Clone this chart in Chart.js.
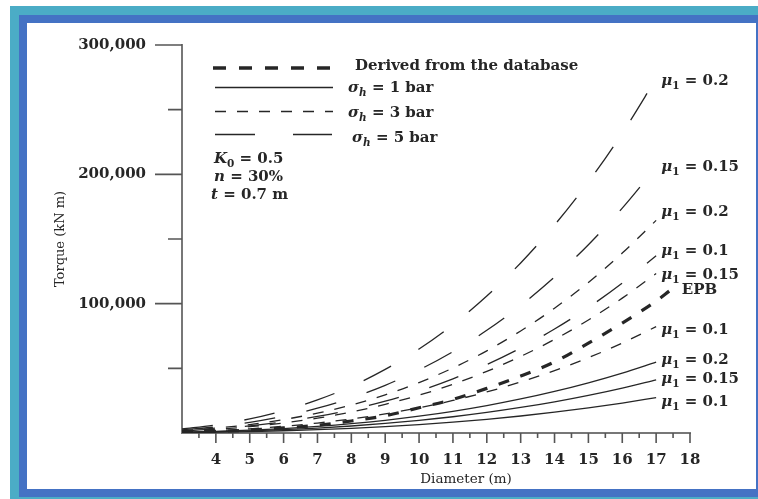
<!DOCTYPE html>
<html>
<head>
<meta charset="utf-8">
<script src="https://cdn.jsdelivr.net/npm/chart.js@4.4.1/dist/chart.umd.min.js"></script>
<style>
    html, body { margin: 0; padding: 0; background: #fff; }
    #page { position: relative; width: 758px; height: 499px; overflow: hidden; background: #fff; }
    .frame-outer { position: absolute; left: 10px; top: 6px; width: 760px; height: 510px; background: #4bacc6; }
    .frame-inner { position: absolute; left: 19px; top: 15px; width: 760px; height: 482px; background: #4472c4; }
    .frame-paper { position: absolute; left: 27px; top: 23px; width: 729px; height: 466px; background: #fff; }
    #chartBox { position: absolute; left: 0; top: 0; width: 758px; height: 499px; }
</style>
</head>
<body>
<div id="page">
    <div class="frame-outer"></div>
    <div class="frame-inner"></div>
    <div class="frame-paper"></div>
    <div id="chartBox"><canvas id="torqueChart"></canvas></div>
</div>
<script>
// Diameter (m)
const diameters = [3, 4, 5, 6, 7, 8, 9, 10, 11, 12, 13, 14, 15, 16, 17];
const epbDiameters = [3, 4, 5, 6, 7, 8, 9, 10, 11, 12, 13, 14, 15, 16, 17, 17.4];

// Torque (kN m), sigma_h = 5 bar
const bar5Mu020 = [3200, 6300, 10900, 17300, 25600, 36100, 49200, 65000, 83800, 105900, 131500, 160800, 194100, 231800, 274000];
const bar5Mu015 = [2400, 4700, 8200, 13000, 19200, 27100, 36900, 48800, 62900, 79400, 98600, 120600, 145600, 173900, 205500];
const bar5Mu010 = [1600, 3150, 5450, 8650, 12800, 18050, 24600, 32500, 41900, 52950, 65750, 80400, 97050, 115900, 137000];

// Torque (kN m), sigma_h = 3 bar
const bar3Mu020 = [1900, 3800, 6550, 10400, 15350, 21650, 29500, 39000, 50300, 63550, 78900, 96500, 116450, 139100, 164400];
const bar3Mu015 = [1450, 2850, 4900, 7800, 11500, 16250, 22150, 29250, 37700, 47650, 59200, 72350, 87350, 104300, 123300];
const bar3Mu010 = [950, 1900, 3250, 5200, 7700, 10850, 14750, 19500, 25150, 31750, 39450, 48250, 58250, 69550, 82200];

// Torque (kN m), sigma_h = 1 bar
const bar1Mu020 = [640, 1260, 2180, 3460, 5120, 7220, 9840, 13000, 16760, 21180, 26300, 32160, 38820, 46360, 54800];
const bar1Mu015 = [480, 950, 1640, 2600, 3840, 5420, 7380, 9750, 12570, 15890, 19730, 24120, 29120, 34770, 41100];
const bar1Mu010 = [320, 630, 1090, 1730, 2560, 3610, 4920, 6500, 8380, 10590, 13150, 16080, 19410, 23180, 27400];

// EPB, derived from the database
const epbTorque = [500, 1200, 2300, 3900, 6000, 9300, 13300, 19500, 26000, 34500, 44000, 55000, 69500, 85000, 102000, 110000];

// tick labels
const xTickLabels = [4, 5, 6, 7, 8, 9, 10, 11, 12, 13, 14, 15, 16, 17, 18];
const yTickLabels = [100000, 200000, 300000];

const SERIF = '"DejaVu Serif", serif';
const INK = '#262626';

// line styles
const STYLE_1BAR = { dash: [], width: 1.3 };
const STYLE_3BAR = { dash: [11, 11], width: 1.3 };
const STYLE_5BAR = { dash: [31, 32], width: 1.3 };
const STYLE_EPB = { dash: [11, 12], width: 3.2 };

function toPoints(xs, ys) {
    return xs.map((x, i) => ({ x: x, y: ys[i] }));
}

function makeSeries(label, xs, ys, style) {
    return {
        label: label,
        data: toPoints(xs, ys),
        borderColor: INK,
        borderWidth: style.width,
        borderDash: style.dash,
        pointRadius: 0,
        fill: false,
        cubicInterpolationMode: 'monotone'
    };
}

// rich text: italic and subscript pieces
function drawRich(ctx, x, y, parts) {
    let cx = x;
    parts.forEach(p => {
        const size = p.sub ? 10.5 : 15;
        ctx.font = (p.it ? 'italic ' : '') + 'bold ' + size + 'px ' + SERIF;
        ctx.fillText(p.t, cx, y + (p.sub ? 4 : 0));
        cx += ctx.measureText(p.t).width;
    });
}

function mu(val) {
    return [{ t: '\u03bc', it: true }, { t: '1', sub: true }, { t: ' = ' + val }];
}

function sigma(val) {
    return [{ t: '\u03c3', it: true }, { t: 'h', it: true, sub: true }, { t: ' = ' + val + ' bar' }];
}

// curve labels at the right end (data coordinates)
const curveLabels = [
    { parts: mu('0.2'), x: 17.15, y: 268800 },
    { parts: mu('0.15'), x: 17.15, y: 202500 },
    { parts: mu('0.2'), x: 17.15, y: 167500 },
    { parts: mu('0.1'), x: 17.15, y: 137800 },
    { parts: mu('0.15'), x: 17.15, y: 118800 },
    { parts: [{ t: 'EPB' }], x: 17.76, y: 107400 },
    { parts: mu('0.1'), x: 17.15, y: 76900 },
    { parts: mu('0.2'), x: 17.15, y: 53300 },
    { parts: mu('0.15'), x: 17.15, y: 38800 },
    { parts: mu('0.1'), x: 17.15, y: 20600 }
];

// legend rows: sample line + text
const legendRows = [
    { style: { dash: [13, 13], width: 3.3 }, x1: 31, x2: 148, ly: 23, tx: 173, ty: 25, parts: [{ t: 'Derived from the database' }] },
    { style: STYLE_1BAR, x1: 33, x2: 151, ly: 42.5, tx: 166, ty: 47, parts: sigma('1') },
    { style: STYLE_3BAR, x1: 33, x2: 151, ly: 66.5, tx: 166, ty: 72, parts: sigma('3') },
    { style: { dash: [40, 38], width: 1.3 }, x1: 33, x2: 150, ly: 89.5, tx: 170, ty: 97, parts: sigma('5') }
];

const paramRows = [
    { tx: 32, ty: 118, parts: [{ t: 'K', it: true }, { t: '0', sub: true }, { t: ' = 0.5' }] },
    { tx: 32, ty: 136, parts: [{ t: 'n', it: true }, { t: ' = 30%' }] },
    { tx: 29, ty: 154, parts: [{ t: 't', it: true }, { t: ' = 0.7 m' }] }
];

// axis ticks, legend and labels
const annotations = {
    id: 'annotations',
    afterDraw(chart) {
        const ctx = chart.ctx;
        const ca = chart.chartArea;
        const xs = chart.scales.x;
        const ys = chart.scales.y;
        ctx.save();

        // tick marks
        ctx.strokeStyle = '#555';
        ctx.lineWidth = 1.6;
        ctx.setLineDash([]);
        ctx.beginPath();
        for (let v = 3.5; v <= 18; v += 0.5) {
            const px = xs.getPixelForValue(v);
            const len = Number.isInteger(v) ? 10 : 5;
            ctx.moveTo(px, ca.bottom);
            ctx.lineTo(px, ca.bottom + len);
        }
        for (let v = 50000; v <= 300000; v += 50000) {
            const py = ys.getPixelForValue(v);
            const len = v % 100000 === 0 ? 27 : 14;
            ctx.moveTo(ca.left - len, py);
            ctx.lineTo(ca.left, py);
        }
        ctx.stroke();

        // legend
        ctx.strokeStyle = INK;
        ctx.fillStyle = INK;
        ctx.textBaseline = 'alphabetic';
        ctx.textAlign = 'left';
        legendRows.forEach(row => {
            ctx.lineWidth = row.style.width;
            ctx.setLineDash(row.style.dash);
            ctx.beginPath();
            ctx.moveTo(ca.left + row.x1, ca.top + row.ly);
            ctx.lineTo(ca.left + row.x2, ca.top + row.ly);
            ctx.stroke();
            drawRich(ctx, ca.left + row.tx, ca.top + row.ty, row.parts);
        });
        ctx.setLineDash([]);
        paramRows.forEach(row => {
            drawRich(ctx, ca.left + row.tx, ca.top + row.ty, row.parts);
        });

        // curve labels
        curveLabels.forEach(lb => {
            drawRich(ctx, xs.getPixelForValue(lb.x), ys.getPixelForValue(lb.y), lb.parts);
        });

        // x axis title
        ctx.font = '13.5px ' + SERIF;
        ctx.textAlign = 'center';
        ctx.textBaseline = 'middle';
        ctx.fillText('Diameter (m)', ca.left + 284, ca.bottom + 46);

        ctx.restore();
    }
};

function initializeChart() {
    const datasets = [
        makeSeries('5 bar, 0.2', diameters, bar5Mu020, STYLE_5BAR),
        makeSeries('5 bar, 0.15', diameters, bar5Mu015, STYLE_5BAR),
        makeSeries('5 bar, 0.1', diameters, bar5Mu010, STYLE_5BAR),
        makeSeries('3 bar, 0.2', diameters, bar3Mu020, STYLE_3BAR),
        makeSeries('3 bar, 0.15', diameters, bar3Mu015, STYLE_3BAR),
        makeSeries('3 bar, 0.1', diameters, bar3Mu010, STYLE_3BAR),
        makeSeries('1 bar, 0.2', diameters, bar1Mu020, STYLE_1BAR),
        makeSeries('1 bar, 0.15', diameters, bar1Mu015, STYLE_1BAR),
        makeSeries('1 bar, 0.1', diameters, bar1Mu010, STYLE_1BAR),
        makeSeries('EPB', epbDiameters, epbTorque, STYLE_EPB)
    ];

    new Chart(document.getElementById('torqueChart'), {
        type: 'line',
        data: { datasets: datasets },
        options: {
            responsive: true,
            maintainAspectRatio: false,
            animation: false,
            layout: { padding: { top: 39, right: 68, bottom: 0, left: 0 } },
            plugins: {
                legend: { display: false },
                tooltip: { enabled: false }
            },
            scales: {
                x: {
                    type: 'linear',
                    min: 3,
                    max: 18,
                    afterFit: scale => { scale.height = 66; },
                    grid: { display: false, drawTicks: false },
                    border: { display: true, color: '#777', width: 2 },
                    ticks: {
                        stepSize: 1,
                        autoSkip: false,
                        maxRotation: 0,
                        padding: 18,
                        color: INK,
                        font: { family: SERIF, size: 15, weight: 'bold' },
                        callback: value => xTickLabels.includes(value) ? String(value) : ''
                    }
                },
                y: {
                    type: 'linear',
                    min: 0,
                    max: 300000,
                    afterFit: scale => { scale.width = 182; },
                    grid: { display: false, drawTicks: false },
                    border: { display: true, color: '#777', width: 2 },
                    title: {
                        display: true,
                        text: 'Torque (kN m)',
                        color: INK,
                        font: { family: SERIF, size: 13 },
                        padding: { top: 53, bottom: 0 }
                    },
                    ticks: {
                        stepSize: 50000,
                        autoSkip: false,
                        padding: 36,
                        color: INK,
                        font: { family: SERIF, size: 15, weight: 'bold' },
                        callback: value => yTickLabels.includes(value) ? value.toLocaleString('en-US') : ''
                    }
                }
            }
        },
        plugins: [annotations]
    });
}

initializeChart();
</script>
</body>
</html>
